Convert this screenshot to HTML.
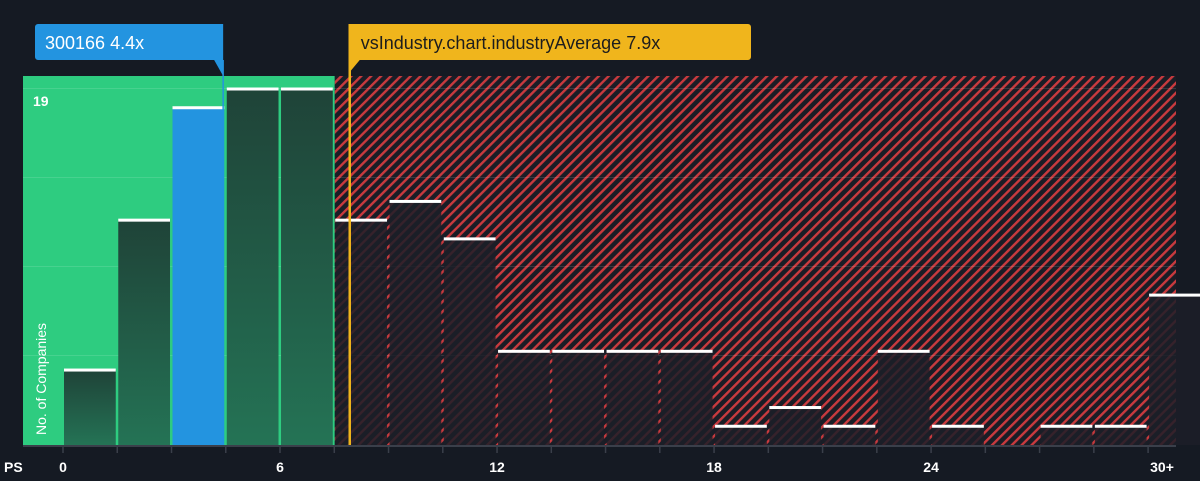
<!DOCTYPE html>
<html><head><meta charset="utf-8"><style>
body{margin:0;background:#151a23;width:1200px;height:476px;overflow:hidden;font-family:"Liberation Sans",sans-serif}
</style></head><body>
<svg width="1200" height="476" xmlns="http://www.w3.org/2000/svg" id="chart">
<defs>
<pattern id="hatch" patternUnits="userSpaceOnUse" width="7" height="7" patternTransform="rotate(45)">
<rect width="7" height="7" fill="#1a1d26"/><rect width="2.4" height="7" fill="#c93a3e"/>
</pattern>
<linearGradient id="gg" x1="0" y1="0" x2="0" y2="1"><stop offset="0" stop-color="#1f4338"/><stop offset="1" stop-color="#247355"/></linearGradient>
</defs>
</svg>
<script>
const bins=[0,1.5,3,4.5,6,7.5,9,10.5,12,13.5,15,16.5,18,19.5,21,22.5,24,25.5,27,28.5,30];
const counts=[4,12,18,19,19,12,13,11,5,5,5,5,1,2,1,5,1,0,1,1,8];
const xTicks=[0,6,12,18,24];
const companyValue=4.4, industryAvg=7.9, maxCount=19;
const svgEl=document.getElementById('chart');const NS='http://www.w3.org/2000/svg';
const X=v=>63+v*36.17, Y=c=>445-c*(356/19);
function el(t,a){const e=document.createElementNS(NS,t);for(const k in a)e.setAttribute(k,a[k]);svgEl.appendChild(e);return e;}
const x0=23,xEnd=1176,plotTop=76,base=445,splitX=X(7.5)+0.5;
let r=el('rect',{x:x0,y:plotTop,width:splitX-x0,height:base-plotTop,fill:'#2ecc80'});


r=el('rect',{x:splitX,y:plotTop,width:xEnd-splitX,height:base-plotTop,fill:'url(#hatch)'});


for(let k=1;k<=4;k++){const gl=el('line',{x1:x0,x2:xEnd,y1:Y(maxCount*k/4)-0.5,y2:Y(maxCount*k/4)-0.5,stroke:'rgba(255,255,255,0.12)','stroke-width':1});

}
const bw=1.5*36.17;
bins.forEach((b,i)=>{const c=counts[i];if(c<=0)return;
 const xl=X(b)+1,w=bw-2.5,yt=Y(c);
 const inGreen=b<7.5;const isCo=companyValue>=b&&companyValue<b+1.5;
 const fill=isCo?'#2394e0':(inGreen?'url(#gg)':'rgba(28,31,40,0.85)');
 const bar=el('rect',{x:xl,y:yt,width:w,height:base-yt,fill:fill});
 
 
 const cap=el('rect',{x:xl,y:yt-1.5,width:w,height:3,fill:'#ffffff'});
 
 
});
const ax=el('line',{x1:x0,x2:xEnd,y1:base+1,y2:base+1,stroke:'#3a3f4a','stroke-width':2});


bins.concat([31.5]).forEach(b=>{const tk=el('line',{x1:X(b),x2:X(b),y1:base+2,y2:base+8,stroke:'#3a3f4a','stroke-width':1.5});
 
 });
xTicks.forEach(v=>{const tl=el('text',{x:X(v),y:472,fill:'#fff','font-size':14,'font-weight':'bold','text-anchor':'middle'});tl.textContent=v;
 
 });
let tx=el('text',{x:1162,y:472,fill:'#fff','font-size':14,'font-weight':'bold','text-anchor':'middle'});tx.textContent='30+';


tx=el('text',{x:4,y:472,fill:'#fff','font-size':14,'font-weight':'bold'});tx.textContent='PS';


tx=el('text',{x:33,y:106,fill:'#fff','font-size':14,'font-weight':'bold'});tx.textContent=maxCount;


tx=el('text',{x:0,y:0,fill:'#fff','font-size':14,transform:'translate(46,435) rotate(-90)'});tx.textContent='No. of Companies';


const ix=X(industryAvg)+1;
let ln=el('line',{x1:ix,x2:ix,y1:24,y2:base,stroke:'#f0b51c','stroke-width':2.5});


let pth=el('path',{d:`M${ix-1} 24 H748 a3 3 0 0 1 3 3 V57 a3 3 0 0 1 -3 3 H${ix+10} L${ix} 72 Z`,fill:'#f0b51c'});


tx=el('text',{x:ix+11,y:49,fill:'#1d1d1d','font-size':18});tx.textContent='vsIndustry.chart.industryAverage '+industryAvg+'x';


const cx=X(companyValue)+1;
ln=el('line',{x1:cx,x2:cx,y1:60,y2:base,stroke:'#2394e0','stroke-width':1.5});


pth=el('path',{d:`M38 24 H${cx} V76 L${cx-9} 60 H38 a3 3 0 0 1 -3 -3 V27 a3 3 0 0 1 3 -3 Z`,fill:'#2394e0'});


tx=el('text',{x:45,y:49,fill:'#fff','font-size':18});tx.textContent='300166 '+companyValue+'x';


</script>
</body></html>
